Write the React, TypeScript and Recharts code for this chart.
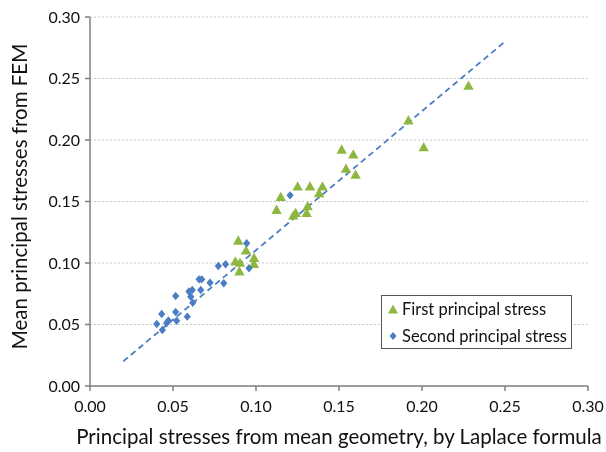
import React from 'react';
import { ScatterChart, Scatter, XAxis, YAxis, CartesianGrid, ReferenceLine } from 'recharts';

// First principal stress: Laplace estimate (x) vs FEM mean (y)
const firstX = [0.0893, 0.094, 0.0876, 0.0904, 0.0988, 0.0988, 0.09, 0.1149, 0.1124, 0.1251, 0.1325, 0.14, 0.138, 0.1311, 0.1305, 0.1239, 0.1225, 0.1516, 0.1586, 0.1542, 0.16, 0.1918, 0.201, 0.228];
const firstY = [0.118, 0.11, 0.101, 0.1, 0.104, 0.099, 0.093, 0.1534, 0.143, 0.162, 0.162, 0.162, 0.1566, 0.146, 0.1404, 0.1404, 0.1385, 0.192, 0.188, 0.1764, 0.1715, 0.2157, 0.194, 0.244];

// Second principal stress
const secondX = [0.0773, 0.0817, 0.0944, 0.0958, 0.0806, 0.0723, 0.0673, 0.0657, 0.0667, 0.0616, 0.0596, 0.0607, 0.0619, 0.0516, 0.0516, 0.0586, 0.0522, 0.0472, 0.0462, 0.0432, 0.0402, 0.0436, 0.1205];
const secondY = [0.0976, 0.099, 0.116, 0.0957, 0.0835, 0.084, 0.0867, 0.0867, 0.078, 0.078, 0.0768, 0.0726, 0.0677, 0.0732, 0.0602, 0.0564, 0.053, 0.0533, 0.0512, 0.0585, 0.0504, 0.0455, 0.155];

// Linear trend line end points
const trendX = [0.02, 0.25];
const trendY = [0.02, 0.28];

const ticks = [0, 0.05, 0.1, 0.15, 0.2, 0.25, 0.3];

const seriesNames = ['First principal stress', 'Second principal stress'];
const xTitle = 'Principal stresses  from mean geometry, by Laplace formula';
const yTitle = 'Mean principal stresses from FEM';

const GREEN = '#8DB83F';
const BLUE = '#4A7EC4';
const AXIS = '#808080';
const FONT = 'Lato, "Open Sans", sans-serif';

const first = firstX.map((x, i) => ({ x, y: firstY[i] }));
const second = secondX.map((x, i) => ({ x, y: secondY[i] }));
const trend = trendX.map((x, i) => ({ x, y: trendY[i] }));

const TriangleShape = (props: any) => {
  const { cx, cy } = props;
  return <polygon points={`${cx},${cy - 5.5} ${cx + 5.2},${cy + 3.8} ${cx - 5.2},${cy + 3.8}`} fill={GREEN} />;
};

const DiamondShape = (props: any) => {
  const { cx, cy } = props;
  return <polygon points={`${cx},${cy - 4.2} ${cx + 3.6},${cy} ${cx},${cy + 4.2} ${cx - 3.6},${cy}`} fill={BLUE} />;
};

const YTitle = (props: any) => {
  const { viewBox } = props;
  const cx = viewBox.x + 11;
  const cy = viewBox.y + viewBox.height / 2 - 5;
  return (
    <text x={cx} y={cy} transform={`rotate(-90, ${cx}, ${cy})`} textAnchor="middle" dominantBaseline="central"
      fontFamily={FONT} fontSize={20.5} fill="#111">
      {yTitle}
    </text>
  );
};

const XTitle = (props: any) => {
  const { viewBox } = props;
  const cx = 331;
  const cy = viewBox.y + 50;
  return (
    <text x={cx} y={cy} textAnchor="middle" dominantBaseline="central" fontFamily={FONT} fontSize={20.5} fill="#111">
      {xTitle}
    </text>
  );
};

const fmt = (v: number) => v.toFixed(2);

export default function App() {
  return (
    <div style={{ position: 'fixed', left: 8, top: 8, width: 598, height: 444 }}>
      <ScatterChart width={598} height={444} margin={{ top: 9, right: 18, bottom: 0, left: 0 }}>
        <CartesianGrid vertical={false} stroke="#C8C8C8" strokeDasharray="2 2" />
        <XAxis
          type="number"
          dataKey="x"
          domain={[0, 0.3]}
          ticks={ticks}
          tickFormatter={fmt}
          height={66}
          stroke={AXIS}
          strokeWidth={1.5}
          tickSize={5}
          tickMargin={10}
          tick={{ fill: '#111', fontSize: 16, fontFamily: FONT }}
          label={<XTitle />}
        />
        <YAxis
          type="number"
          dataKey="y"
          domain={[0, 0.3]}
          ticks={ticks}
          tickFormatter={fmt}
          width={82}
          stroke={AXIS}
          strokeWidth={1.5}
          tickSize={5}
          tickMargin={5}
          tick={{ fill: '#111', fontSize: 16, fontFamily: FONT }}
          label={<YTitle />}
        />
        <ReferenceLine
          segment={trend}
          stroke={BLUE}
          strokeWidth={1.8}
          strokeDasharray="6 4"
        />
        <Scatter name={seriesNames[0]} data={first} shape={<TriangleShape />} isAnimationActive={false} />
        <Scatter name={seriesNames[1]} data={second} shape={<DiamondShape />} isAnimationActive={false} />
      </ScatterChart>
      <div
        style={{
          position: 'absolute', left: 373, top: 287, width: 189, height: 52,
          border: '1.5px solid #555', background: '#fff', fontFamily: FONT, fontSize: 16.5, color: '#111',
        }}
      >
        <div style={{ position: 'absolute', left: 5, top: 3, display: 'flex', alignItems: 'center', whiteSpace: 'nowrap' }}>
          <svg width={12} height={18}><polygon points="6,4.5 11,13.5 1,13.5" fill={GREEN} /></svg>
          <span style={{ marginLeft: 3 }}>{seriesNames[0]}</span>
        </div>
        <div style={{ position: 'absolute', left: 5, top: 30, display: 'flex', alignItems: 'center', whiteSpace: 'nowrap' }}>
          <svg width={12} height={18}><polygon points="6,5 9.5,9 6,13 2.5,9" fill={BLUE} /></svg>
          <span style={{ marginLeft: 3 }}>{seriesNames[1]}</span>
        </div>
      </div>
    </div>
  );
}
